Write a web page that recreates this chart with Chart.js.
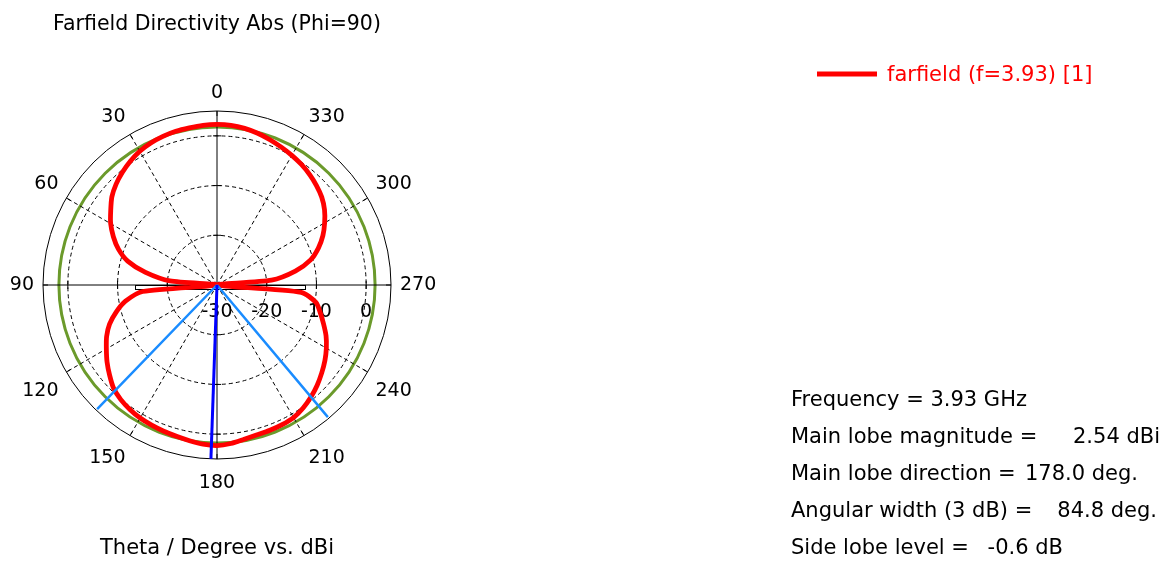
<!DOCTYPE html>
<html>
<head>
<meta charset="utf-8">
<title>Farfield Directivity Abs (Phi=90)</title>
<script src="https://cdn.jsdelivr.net/npm/chart.js@4.4.1/dist/chart.umd.min.js"></script>
<style>
  html, body { margin: 0; padding: 0; background: #fff; }
  #wrap { width: 1170px; height: 563px; }
</style>
</head>
<body>
<div id="wrap"><canvas id="polar" width="1170" height="563"></canvas></div>
<script>
// farfield cut, theta = 0, 5, 10 ... 355 deg, values in dBi
const thetaStep = 5;
const farfieldDb = [
   2.3,  2.25,  2.1,  2.0,  1.8,  1.5,  1.05,  0.4, -0.4, -1.3,   // 0..45
  -2.4, -3.9, -5.3, -7.0, -8.9, -11.4, -15.4, -20.5, -30, -15,   // 50..95
  -11.3, -9.0, -7.0, -5.5, -4.3, -3.0, -1.8, -0.6,  0.1,  0.55,  // 100..145
   0.9,  1.1,  1.3,  1.5,  1.8,  2.15,  2.3,  2.0,  1.5,  1.2,   // 150..195
   1.1,  1.0,  0.8,  0.2, -0.6, -1.5, -2.5, -3.5, -4.6, -5.8,    // 200..245
  -7.2, -8.5, -9.8, -13, -30, -19, -14, -10.5, -8.3, -6.5,       // 250..295
  -5.0, -3.6, -2.5, -1.7, -1.0, -0.4,  0.1,  0.6,  1.1,  1.6,    // 300..345
   2.0,  2.25                                                    // 350..355
];

// radial axis (dB)
const dbMin = -30;
const dbMax = 5;
const dbTicks = [-30, -20, -10, 0];
const maxCircle = 1.8;          // green circle of the main lobe level

// angle labels
const angleTicks = [0, 30, 60, 90, 120, 150, 180, 210, 240, 270, 300, 330];

// main lobe and 3 dB beam edges
const mainLobeDir = 178.0;
const beamEdges = [135.6, 220.4];
const beamReach = 4.7;

// marker box on the horizontal axis (dB at theta 90 and 270)
const sideBox = [-13.5, -12.3];

const legendLabel = "farfield (f=3.93) [1]";
const infoLabels = ["Frequency = 3.93 GHz", "Main lobe magnitude =", "Main lobe direction =",
                    "Angular width (3 dB) =", "Side lobe level ="];
const infoValues = ["", "2.54 dBi", "178.0 deg.", "84.8 deg.", "-0.6 dB"];
const infoValueRight = [0, 1160, 1138, 1157, 1063];

const FONT = "DejaVu Sans";
const RED = "#ff0000";
const GREEN = "#6b9a2b";

// radar goes clockwise from the top, theta goes the other way
const slots = [];
for (let i = 0; i < 360; i++) slots.push((360 - i) % 360);
function idx(theta) { return Math.round(360 - theta) % 360; }
function emptySeries() { return new Array(slots.length).fill(null); }

const farfield = emptySeries();
farfieldDb.forEach((v, i) => { farfield[idx(i * thetaStep)] = v; });

const beamLines = emptySeries();
beamEdges.forEach((t) => {
  beamLines[idx(t)] = beamReach;
  beamLines[(idx(t) + 1) % 360] = dbMin;
});

const mainLine = emptySeries();
mainLine[idx(mainLobeDir)] = dbMax;
mainLine[(idx(mainLobeDir) + 1) % 360] = dbMin;

// extra drawing: axis ticks, labels, legend and the info block
const decor = {
  id: "decor",
  beforeDatasetsDraw(chart) {
    const r = chart.scales.r;
    const ctx = chart.ctx;
    ctx.save();

    // small box on the axis
    const pL = r.getPointPositionForValue(idx(90), sideBox[0]);
    const pR = r.getPointPositionForValue(idx(270), sideBox[1]);
    ctx.fillStyle = "#fff";
    ctx.fillRect(pL.x, r.yCenter + 0.5, pR.x - pL.x, 4);
    ctx.strokeStyle = "#000";
    ctx.lineWidth = 1;
    ctx.strokeRect(Math.round(pL.x) + 0.5, r.yCenter + 0.5, Math.round(pR.x - pL.x), 4);

    // ticks on the axes
    ctx.beginPath();
    [-20, -10, 0].forEach((v) => {
      [0, 90, 180, 270].forEach((t) => {
        const p = r.getPointPositionForValue(idx(t), v);
        if (t % 180 === 0) { ctx.moveTo(p.x - 4, p.y); ctx.lineTo(p.x + 4, p.y); }
        else { ctx.moveTo(p.x, p.y - 4); ctx.lineTo(p.x, p.y + 4); }
      });
    });
    angleTicks.forEach((t) => {
      const a = r.getPointPosition(idx(t), r.drawingArea);
      const b = r.getPointPosition(idx(t), r.drawingArea - 5);
      ctx.moveTo(a.x, a.y); ctx.lineTo(b.x, b.y);
    });
    ctx.stroke();

    // dB labels under the right half of the horizontal axis
    ctx.fillStyle = "#000";
    ctx.font = "19px '" + FONT + "'";
    ctx.textAlign = "center";
    ctx.textBaseline = "middle";
    dbTicks.forEach((v) => {
      const p = r.getPointPositionForValue(idx(270), v);
      ctx.fillText(String(v), p.x, p.y + 27);
    });

    // angle labels, nearest corner of the text box sits just outside the rim
    angleTicks.forEach((t) => {
      const i = idx(t);
      const p = r.getPointPosition(i, r.drawingArea + 9);
      const ang = r.getIndexAngle(i) - Math.PI / 2;
      const cx = Math.cos(ang), cy = Math.sin(ang);
      const w = ctx.measureText(String(t)).width;
      const x = Math.abs(cx) < 0.05 ? p.x : p.x + Math.sign(cx) * w / 2;
      let y = p.y;
      if (cy < -0.05) y = p.y - 9;
      else if (cy > 0.05) y = p.y + 15;
      ctx.fillText(String(t), x, y);
    });
    ctx.restore();
  },
  afterDraw(chart) {
    const ctx = chart.ctx;
    const ds = chart.data.datasets[2];
    ctx.save();
    // legend
    ctx.strokeStyle = ds.borderColor;
    ctx.lineWidth = 5;
    ctx.beginPath();
    ctx.moveTo(817, 74);
    ctx.lineTo(877, 74);
    ctx.stroke();
    ctx.fillStyle = ds.borderColor;
    ctx.font = "21px '" + FONT + "'";
    ctx.textBaseline = "middle";
    ctx.textAlign = "left";
    ctx.fillText(ds.label, 887, 76);

    // info block
    ctx.fillStyle = "#000";
    infoLabels.forEach((txt, k) => {
      const y = 401 + k * 36.8;
      ctx.textAlign = "left";
      ctx.fillText(txt, 791, y);
      if (infoValues[k]) {
        ctx.textAlign = "right";
        ctx.fillText(infoValues[k], infoValueRight[k], y);
      }
    });
    ctx.restore();
  }
};

const chart = new Chart(document.getElementById("polar"), {
  type: "radar",
  data: {
    labels: slots,
    datasets: [
      {
        label: "main lobe",
        data: mainLine,
        borderColor: "#0000ff",
        borderWidth: 3,
        spanGaps: false,
      },
      {
        label: "3 dB width",
        data: beamLines,
        borderColor: "#1a8cff",
        borderWidth: 2.5,
        spanGaps: false,
      },
      {
        label: legendLabel,
        data: farfield,
        borderColor: RED,
        borderWidth: 4.8,
        spanGaps: true,
        tension: 0.25,
      },
    ],
  },
  options: {
    responsive: false,
    animation: false,
    devicePixelRatio: 1,
    layout: { padding: { left: 43, right: 779, top: 0, bottom: 0 } },
    elements: {
      point: { radius: 0, hitRadius: 0, hoverRadius: 0 },
      line: { fill: false },
    },
    plugins: {
      legend: { display: false },
      tooltip: { enabled: false },
      title: {
        display: true,
        text: "Farfield Directivity Abs (Phi=90)",
        color: "#000",
        font: { family: FONT, size: 20.5, weight: "normal" },
        padding: { top: 12, bottom: 74.4 },
      },
      subtitle: {
        display: true,
        position: "bottom",
        text: "Theta / Degree vs. dBi",
        color: "#000",
        font: { family: FONT, size: 21, weight: "normal" },
        padding: { top: 77.4, bottom: 1.4 },
      },
    },
    scales: {
      r: {
        min: dbMin,
        max: dbMax,
        afterBuildTicks: (scale) => {
          scale.ticks = dbTicks.concat([maxCircle, dbMax]).map((v) => ({ value: v }));
        },
        ticks: { display: false },
        pointLabels: { display: false },
        grid: {
          circular: true,
          color: (c) => (c.tick && c.tick.value === maxCircle ? GREEN : "#000"),
          lineWidth: (c) => (c.tick && c.tick.value === maxCircle ? 3 : 1),
        },
        border: {
          dash: (c) => (c.tick && c.tick.value <= 0 ? [4, 3] : []),
        },
        angleLines: {
          color: (c) => (c.label % 30 === 0 ? "#000" : "rgba(0,0,0,0)"),
          lineWidth: (c) => (c.label % 30 === 0 ? 1 : 0),
          borderDash: (c) => (c.label % 90 === 0 ? [] : [4, 3]),
        },
      },
    },
  },
  plugins: [decor],
});
</script>
</body>
</html>
